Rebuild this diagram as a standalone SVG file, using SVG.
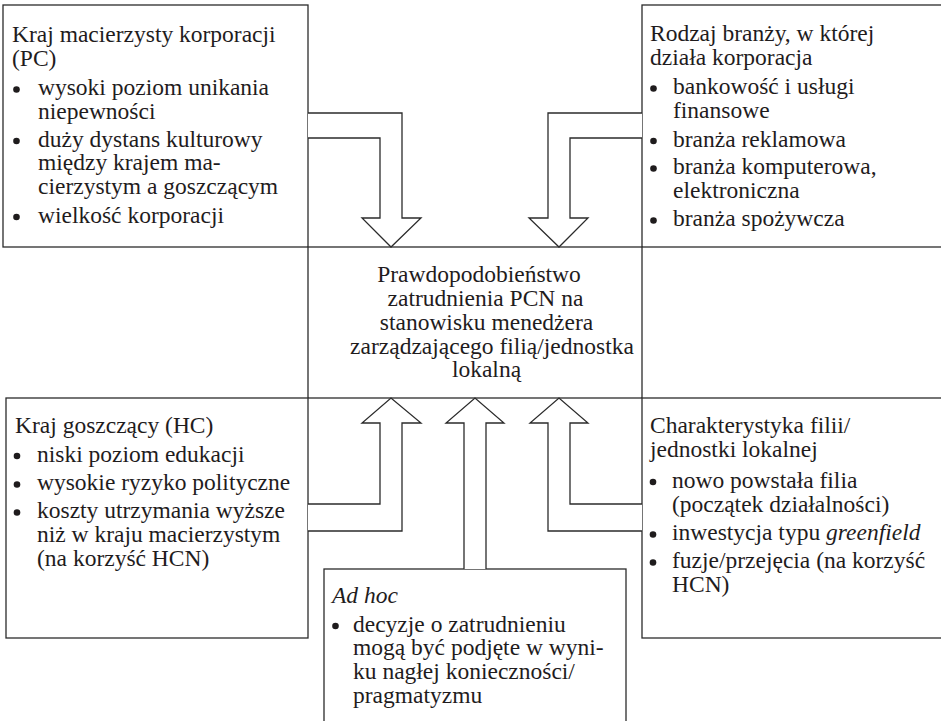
<svg xmlns="http://www.w3.org/2000/svg" width="941" height="721" viewBox="0 0 941 721">
<style>
.box{fill:#fff;stroke:#2b2b2b;stroke-width:1.3}
.arr{fill:#fff;stroke:#2b2b2b;stroke-width:1.3;stroke-linejoin:miter}
.t text{font-family:"Liberation Serif","Times New Roman",serif;font-size:23.5px;fill:#1f1c1d}
.c{text-anchor:middle}
.i{font-style:italic}
.dot{fill:#1f1c1d}
</style>
<rect width="941" height="721" fill="#fff"/>
<g class="t">
<g id="node-pc">
<rect class="box" x="3" y="5" width="305" height="242"/>
<text x="12" y="41.5">Kraj macierzysty korporacji</text>
<text x="12" y="66">(PC)</text>
<circle class="dot" cx="16.5" cy="89.5" r="3.3"/>
<text x="38" y="95">wysoki poziom unikania</text>
<text x="38" y="118.5">niepewności</text>
<circle class="dot" cx="16.5" cy="141" r="3.3"/>
<text x="38" y="146.5">duży dystans kulturowy</text>
<text x="38" y="170">między krajem ma-</text>
<text x="38" y="194">cierzystym a goszczącym</text>
<circle class="dot" cx="16.5" cy="217" r="3.3"/>
<text x="38" y="222.5">wielkość korporacji</text>
</g>
<g id="node-industry">
<rect class="box" x="642" y="5" width="310" height="242"/>
<text x="650" y="40.5">Rodzaj branży, w której</text>
<text x="650" y="64.5">działa korporacja</text>
<circle class="dot" cx="653.5" cy="88.5" r="3.3"/>
<text x="673" y="94">bankowość i usługi</text>
<text x="673" y="118">finansowe</text>
<circle class="dot" cx="653.5" cy="141" r="3.3"/>
<text x="673" y="146.5">branża reklamowa</text>
<circle class="dot" cx="653.5" cy="168.5" r="3.3"/>
<text x="673" y="174">branża komputerowa,</text>
<text x="673" y="198">elektroniczna</text>
<circle class="dot" cx="653.5" cy="220.5" r="3.3"/>
<text x="673" y="226">branża spożywcza</text>
</g>
<g id="node-center">
<rect class="box" x="308" y="247" width="334" height="151"/>
<text class="c" x="479" y="281.5">Prawdopodobieństwo</text>
<text class="c" x="485.5" y="305.5">zatrudnienia PCN na</text>
<text class="c" x="486.5" y="329.5">stanowisku menedżera</text>
<text class="c" x="492" y="353.5">zarządzającego filią/jednostka</text>
<text class="c" x="486.5" y="377">lokalną</text>
</g>
<g id="node-hc">
<rect class="box" x="6" y="398" width="302" height="240"/>
<text x="15" y="432.5">Kraj goszczący (HC)</text>
<circle class="dot" cx="17" cy="456" r="3.3"/>
<text x="37" y="461.5">niski poziom edukacji</text>
<circle class="dot" cx="17" cy="484.5" r="3.3"/>
<text x="37" y="490">wysokie ryzyko polityczne</text>
<circle class="dot" cx="17" cy="512.5" r="3.3"/>
<text x="37" y="518">koszty utrzymania wyższe</text>
<text x="37" y="542">niż w kraju macierzystym</text>
<text x="37" y="566">(na korzyść HCN)</text>
</g>
<g id="node-subsidiary">
<rect class="box" x="642" y="398" width="310" height="240"/>
<text x="650" y="432.5">Charakterystyka filii/</text>
<text x="650" y="456.5">jednostki lokalnej</text>
<circle class="dot" cx="653" cy="482" r="3.3"/>
<text x="672" y="487.5">nowo powstała filia</text>
<text x="672" y="511.5">(początek działalności)</text>
<circle class="dot" cx="653" cy="534.5" r="3.3"/>
<text x="672" y="540">inwestycja typu <tspan class="i">greenfield</tspan></text>
<circle class="dot" cx="653" cy="562.5" r="3.3"/>
<text x="672" y="568">fuzje/przejęcia (na korzyść</text>
<text x="672" y="592">HCN)</text>
</g>
<g id="node-adhoc">
<rect class="box" x="324" y="569" width="302" height="170"/>
<text class="i" x="332" y="602.5">Ad hoc</text>
<circle class="dot" cx="335.5" cy="626" r="3.3"/>
<text x="353" y="631.5">decyzje o zatrudnieniu</text>
<text x="353" y="655">mogą być podjęte w wyni-</text>
<text x="353" y="679">ku nagłej konieczności/</text>
<text x="353" y="703">pragmatyzmu</text>
</g>
</g>
<g id="connectors">
<path class="arr" d="M308,113 H402 V218 H421 L391,247 L362,218 H380 V138 H308"/>
<path class="arr" d="M642,113 H548 V218 H529 L559,247 L588,218 H570 V138 H642"/>
<path class="arr" d="M308,504 H380 V423 H362 L391,398 L421,423 H402 V531 H308"/>
<path class="arr" d="M464,569 V423 H446 L475,398 L504,423 H486 V569"/>
<path class="arr" d="M642,504 H570 V423 H588 L559,398 L530,423 H548 V531 H642"/>
</g>
</svg>
